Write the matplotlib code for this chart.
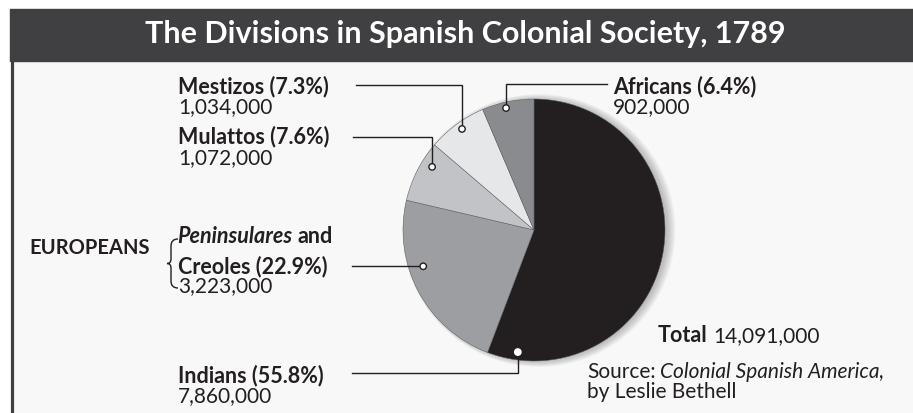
import numpy as np
import matplotlib.pyplot as plt
from matplotlib.patches import Rectangle, Circle, PathPatch
from matplotlib.path import Path

# data
groups = ["Indians", "Creoles", "Mulattos", "Mestizos", "Africans"]
population = [7860000, 3223000, 1072000, 1034000, 902000]
pct_labels = ["55.8%", "22.9%", "7.6%", "7.3%", "6.4%"]
count_labels = ["7,860,000", "3,223,000", "1,072,000", "1,034,000", "902,000"]
colors = ["#231f20", "#9d9ea2", "#c2c3c6", "#e6e7e8", "#8a8b8e"]
total_label = "14,091,000"

W, H = 913, 413
FONT = "Lato"
INK = "#231f20"


def Y(y):
    # pixel row (from top) -> data y
    return H - y


fig = plt.figure(figsize=(W / 100, H / 100), dpi=100)
ax = fig.add_axes([0, 0, 1, 1])

# soft shadow behind the pie
cx, cy, R = 534, Y(230), 131
for k in range(7):
    ax.add_patch(Circle((cx + 2.5 + k * 0.4, cy - 0.5), R + k * 0.9,
                        color="#5a5a5e", alpha=0.06, lw=0, zorder=2))

wedges, _ = ax.pie(population, colors=colors, startangle=90, counterclock=False,
                   center=(cx, cy), radius=R, frame=True,
                   wedgeprops=dict(edgecolor="#58595b", linewidth=0.35))
for w in wedges:
    w.set_zorder(3)

ax.set_xlim(0, W)
ax.set_ylim(0, H)
ax.set_aspect("auto")
ax.axis("off")

# panel + title bar
ax.add_patch(Rectangle((13, 0), W - 13, Y(61), color="#f8f8f8", zorder=0))
ax.add_patch(Rectangle((10, Y(61)), W - 10, 52, color="#404042", zorder=1))
ax.plot([11.5, 11.5], [0, Y(61)], color="#404042", lw=2.3, zorder=1)
ax.text(465, Y(43), "The Divisions in Spanish Colonial Society, 1789",
        ha="center", va="baseline", color="white", fontsize=22,
        fontweight="bold", family=FONT, zorder=2)

# dot placement inside each wedge: (fraction along wedge, radius fraction)
dot_pos = {"Indians": (0.066, 0.94), "Creoles": (0.38, 0.89),
           "Mulattos": (0.32, 0.915), "Mestizos": (0.47, 0.947),
           "Africans": (0.56, 0.955)}
dots = {}
for name, w in zip(groups, wedges):
    t, rf = dot_pos[name]
    ang = np.deg2rad(w.theta1 + t * (w.theta2 - w.theta1))
    dots[name] = (cx + rf * R * np.cos(ang), cy + rf * R * np.sin(ang))

lk = dict(color=INK, lw=1.0, zorder=4, solid_joinstyle="miter")
# leader lines
dx, dy = dots["Mestizos"]
ax.plot([356, dx, dx], [Y(85), Y(85), dy], **lk)
dx, dy = dots["Mulattos"]
ax.plot([353, dx, dx], [Y(137), Y(137), dy], **lk)
dx, dy = dots["Creoles"]
ax.plot([352, dx], [dy, dy], **lk)
dx, dy = dots["Indians"]
ax.plot([352, dx, dx], [Y(373), Y(373), dy], **lk)
dx, dy = dots["Africans"]
ax.plot([dx, dx, 607], [dy, Y(84), Y(84)], **lk)

for name, (dx, dy) in dots.items():
    ec = "white" if name == "Indians" else INK
    ax.add_patch(Circle((dx, dy), 3.2, facecolor="white", edgecolor=ec,
                        lw=1.0, zorder=5))

bold = dict(fontsize=15.5, fontweight="bold", family=FONT, color=INK,
            ha="left", va="baseline")
reg = dict(fontsize=15, family=FONT, color=INK, ha="left", va="baseline")


def after(txt, gap=0):
    fig.canvas.draw()
    return txt.get_window_extent().x1 + gap


ax.text(178, Y(93), f"Mestizos ({pct_labels[3]})", **bold)
ax.text(178, Y(113), count_labels[3], **reg)
ax.text(178, Y(143), f"Mulattos ({pct_labels[2]})", **bold)
ax.text(178, Y(164), count_labels[2], **reg)
ax.text(29, Y(254), "EUROPEANS", **{**bold, "fontsize": 14.5})
t1 = ax.text(177, Y(243), "Peninsulares", **{**bold, "style": "italic"})
ax.text(after(t1, 5), Y(243), "and", **bold)
ax.text(178, Y(273), f"Creoles ({pct_labels[1]})", **bold)
ax.text(178, Y(292), count_labels[1], **reg)
ax.text(178, Y(382), f"Indians ({pct_labels[0]})", **bold)
ax.text(178, Y(402), count_labels[0], **reg)
ax.text(613, Y(93), f"Africans ({pct_labels[4]})", **bold)
ax.text(613, Y(113), count_labels[4], **reg)

tt = ax.text(658, Y(342), "Total", **bold)
ax.text(after(tt, 6), Y(342), total_label, **reg)

ts = ax.text(587, Y(378), "Source:", **reg)
ax.text(after(ts, 5), Y(378), "Colonial Spanish America,",
        **{**reg, "style": "italic"})
ax.text(587, Y(398), "by Leslie Bethell", **reg)

# curly brace for Europeans
verts = [(178, Y(239)), (171, Y(239)), (171, Y(246)),
         (171, Y(259)),
         (171, Y(263.5)), (167, Y(263.5)),
         (171, Y(263.5)), (171, Y(268)),
         (171, Y(281)),
         (171, Y(288)), (178, Y(288))]
codes = [Path.MOVETO, Path.CURVE3, Path.CURVE3, Path.LINETO,
         Path.CURVE3, Path.CURVE3, Path.CURVE3, Path.CURVE3,
         Path.LINETO, Path.CURVE3, Path.CURVE3]
ax.add_patch(PathPatch(Path(verts, codes), facecolor="none", edgecolor=INK,
                       lw=1.0, zorder=4))

fig.savefig("out.png", dpi=100, facecolor="white")
